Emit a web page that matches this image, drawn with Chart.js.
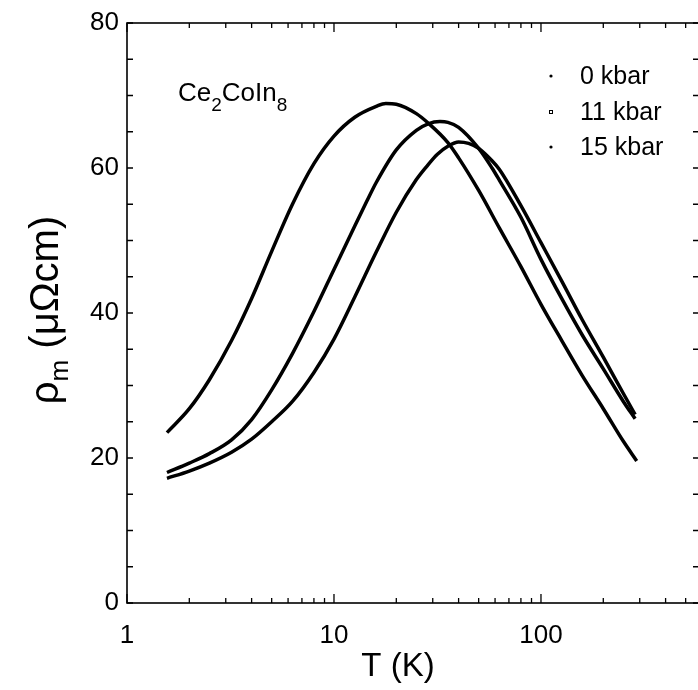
<!DOCTYPE html>
<html>
<head>
<meta charset="utf-8">
<script src="https://cdn.jsdelivr.net/npm/chart.js@4.4.1/dist/chart.umd.min.js"></script>
<style>
  html, body { margin: 0; padding: 0; background: #fff; overflow: hidden; }
  canvas { display: block; }
</style>
</head>
<body>
<canvas id="c" width="700" height="690"></canvas>
<script>
// resistivity curves rho_m(T)
const T0 = [1.56, 2, 2.5, 3.2, 4, 5, 6.3, 8, 10, 12.6, 16, 17.8, 20, 25, 28.5, 35.5, 40, 50, 63, 80, 100, 126, 158, 200, 250, 290];
const rho0 = [23.5, 26.8, 30.8, 36.2, 42.0, 48.5, 55.0, 60.6, 64.4, 67.0, 68.5, 68.9, 68.8, 67.5, 66.2, 63.5, 61.4, 56.9, 51.7, 46.4, 41.2, 36.2, 31.4, 26.8, 22.3, 19.6];

const T11 = [1.56, 2, 2.5, 3.2, 4, 5, 6.3, 8, 10, 12.6, 14.4, 16, 20, 25, 28.5, 32.5, 35.5, 40, 50, 58, 63, 80, 100, 127, 158, 200, 250, 285];
const rho11 = [18.0, 19.3, 20.6, 22.5, 25.3, 29.4, 34.4, 40.2, 46.0, 52.0, 55.4, 58.0, 62.5, 65.2, 66.1, 66.4, 66.3, 65.6, 62.7, 60.0, 58.3, 53.2, 47.4, 41.8, 37.0, 32.3, 27.8, 25.4];

const T15 = [1.56, 2, 2.5, 3.2, 4, 5, 6.3, 8, 10, 12.6, 16, 20, 25, 28, 31.6, 35.5, 40, 44.7, 50, 58, 63, 80, 100, 126, 158, 200, 250, 285];
const rho15 = [17.2, 18.2, 19.3, 20.8, 22.6, 25.0, 27.8, 31.8, 36.4, 42.2, 48.4, 53.9, 58.4, 60.2, 61.9, 63.0, 63.6, 63.4, 62.7, 61.0, 59.8, 54.8, 49.7, 44.4, 39.1, 33.9, 28.9, 26.0];

const seriesNames = ['0 kbar', '11 kbar', '15 kbar'];
const xTickLabels = [1, 10, 100];
const xMinorTicks = [2, 3, 4, 5, 6, 7, 8, 9, 20, 30, 40, 50, 60, 70, 80, 90, 200, 300, 400, 500];
const yTickLabels = [0, 20, 40, 60, 80];
const yMinorTicks = [5, 10, 15, 25, 30, 35, 45, 50, 55, 65, 70, 75];

function toPoints(xs, ys) {
    return xs.map((x, i) => ({ x: x, y: ys[i] }));
}

const FONT = '"Liberation Sans", Arial, Helvetica, sans-serif';

// draws frame, inward ticks, labels, legend and the compound name
const framePlugin = {
    id: 'frame',
    afterDraw(chart) {
        const ctx = chart.ctx;
        const a = chart.chartArea;
        const xs = chart.scales.x;
        const ys = chart.scales.y;
        ctx.save();
        ctx.strokeStyle = '#000';
        ctx.lineWidth = 1.6;
        ctx.strokeRect(a.left, a.top, a.right - a.left, a.bottom - a.top);

        ctx.lineWidth = 1.3;
        ctx.beginPath();
        xTickLabels.forEach(v => {
            const px = xs.getPixelForValue(v);
            ctx.moveTo(px, a.bottom); ctx.lineTo(px, a.bottom - 9);
            ctx.moveTo(px, a.top); ctx.lineTo(px, a.top + 9);
        });
        xMinorTicks.forEach(v => {
            const px = xs.getPixelForValue(v);
            ctx.moveTo(px, a.bottom); ctx.lineTo(px, a.bottom - 5);
            ctx.moveTo(px, a.top); ctx.lineTo(px, a.top + 5);
        });
        yTickLabels.concat(yMinorTicks).forEach(v => {
            const py = ys.getPixelForValue(v);
            ctx.moveTo(a.left, py); ctx.lineTo(a.left + 6, py);
            ctx.moveTo(a.right, py); ctx.lineTo(a.right - 6, py);
        });
        ctx.stroke();

        // tick labels
        ctx.fillStyle = '#000';
        ctx.font = '26px ' + FONT;
        ctx.textAlign = 'center';
        ctx.textBaseline = 'middle';
        xTickLabels.forEach(v => {
            ctx.fillText(String(v), xs.getPixelForValue(v), a.bottom + 33);
        });
        ctx.textAlign = 'right';
        yTickLabels.forEach(v => {
            ctx.fillText(String(v), a.left - 8, ys.getPixelForValue(v));
        });

        // axis titles
        ctx.font = '33px ' + FONT;
        ctx.textAlign = 'center';
        ctx.textBaseline = 'alphabetic';
        ctx.fillText('T (K)', 398, 676);

        ctx.save();
        ctx.translate(58, 310);
        ctx.rotate(-Math.PI / 2);
        ctx.textAlign = 'left';
        const big = '40px ' + FONT, small = '26px ' + FONT;
        ctx.font = big;
        const w1 = ctx.measureText('ρ').width;
        const w3 = ctx.measureText(' (μΩcm)').width;
        ctx.font = small;
        const w2 = ctx.measureText('m').width;
        const x0 = -(w1 + w2 + w3) / 2;
        ctx.font = big;
        ctx.fillText('ρ', x0, 0);
        ctx.font = small;
        ctx.fillText('m', x0 + w1, 10);
        ctx.font = big;
        ctx.fillText(' (μΩcm)', x0 + w1 + w2, 0);
        ctx.restore();

        // compound label
        let cx = 178;
        const base = 101;
        const parts = [['Ce', 26, 0], ['2', 19, 10], ['CoIn', 26, 0], ['8', 19, 10]];
        ctx.textAlign = 'left';
        parts.forEach(p => {
            ctx.font = p[1] + 'px ' + FONT;
            ctx.fillText(p[0], cx, base + p[2]);
            cx += ctx.measureText(p[0]).width;
        });

        // legend
        const ly = [77, 113, 148];
        ctx.font = '25px ' + FONT;
        ctx.textBaseline = 'middle';
        seriesNames.forEach((name, i) => {
            ctx.fillText(name, 580, ly[i]);
            if (i === 1) {
                ctx.lineWidth = 1;
                ctx.strokeRect(549.5, ly[i] - 2.5, 3, 3);
            } else {
                ctx.beginPath();
                ctx.arc(551, ly[i] - 1, 1.6, 0, Math.PI * 2);
                ctx.fill();
            }
        });
        ctx.restore();
    }
};

const lineStyle = {
    borderColor: '#000',
    backgroundColor: '#000',
    borderWidth: 3.5,
    pointRadius: 0,
    cubicInterpolationMode: 'monotone',
    fill: false
};

new Chart(document.getElementById('c').getContext('2d'), {
    type: 'line',
    data: {
        datasets: [
            Object.assign({ label: seriesNames[0], data: toPoints(T0, rho0) }, lineStyle),
            Object.assign({ label: seriesNames[1], data: toPoints(T11, rho11) }, lineStyle),
            Object.assign({ label: seriesNames[2], data: toPoints(T15, rho15) }, lineStyle)
        ]
    },
    options: {
        responsive: false,
        animation: false,
        layout: { padding: { left: 127, right: 1, top: 23, bottom: 87 } },
        plugins: { legend: { display: false }, tooltip: { enabled: false } },
        scales: {
            x: { type: 'logarithmic', min: 1, max: 580, display: false },
            y: { type: 'linear', min: 0, max: 80, display: false }
        }
    },
    plugins: [framePlugin]
});
</script>
</body>
</html>
